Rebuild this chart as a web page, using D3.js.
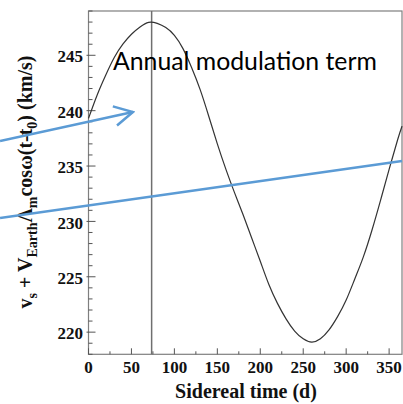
<!DOCTYPE html>
<html>
<head>
<meta charset="utf-8">
<script src="https://cdn.jsdelivr.net/npm/d3@7"></script>
<style>
  html, body { margin: 0; padding: 0; background: #fff; }
  svg { display: block; }
</style>
</head>
<body>
<svg id="chart" width="403" height="404"></svg>
<script>
// ---- data ----
const days   = [0, 10, 20, 30, 40, 50, 60, 70, 80, 90, 100, 110, 120, 130, 140, 150, 160, 170, 180, 190,
                200, 210, 220, 230, 240, 250, 260, 270, 280, 290, 300, 310, 320, 330, 340, 350, 360, 365];
const speeds = [239.3, 241.4, 243.2, 244.8, 246.0, 246.9, 247.55, 247.97, 247.88, 247.5, 246.8, 245.6, 243.9, 241.9, 239.5, 237.0, 234.7, 232.6, 230.6, 228.5,
                226.4, 224.3, 222.6, 221.2, 220.1, 219.4, 219.1, 219.4, 220.2, 221.4, 222.9, 224.8, 226.8, 229.2, 231.9, 234.7, 237.4, 238.6];
const xTickValues = [0, 50, 100, 150, 200, 250, 300, 350];
const yTickValues = [220, 225, 230, 235, 240, 245];
const peakDay = 73.5;
// annotation overlays (data coordinates)
const arrowDays   = [-103, 51.7];
const arrowValues = [237.26, 239.88];
const trendDays   = [-103, 365];
const trendValues = [230.3, 235.45];
const annotationText = "Annual modulation term";
const xLabel = "Sidereal time (d)";

// ---- layout ----
const svg = d3.select("#chart");
const mLeft = 88.5, mRight = 402, mTop = 11, mBottom = 354.3;
const x = d3.scaleLinear().domain([0, 365]).range([mLeft, mRight]);
const y = d3.scaleLinear().domain([218, 249]).range([mBottom, mTop]);

const frameColor = "#7f7f7f";
const serif = "'Liberation Serif', 'Times New Roman', serif";

// frame
svg.append("rect")
  .attr("x", mLeft).attr("y", mTop)
  .attr("width", mRight - mLeft).attr("height", mBottom - mTop)
  .attr("fill", "none").attr("stroke", frameColor).attr("stroke-width", 1.2);

// minor ticks
const xMinor = d3.range(0, 366, 25).filter(v => v % 50 !== 0);
const yMinor = d3.range(218, 250, 1).filter(v => v % 5 !== 0);

const tickG = svg.append("g").attr("stroke", "#555").attr("stroke-width", 1);
tickG.selectAll(".xmaj").data(xTickValues).join("line")
  .attr("x1", d => x(d)).attr("x2", d => x(d))
  .attr("y1", mBottom).attr("y2", mBottom - 6);
tickG.selectAll(".xmin").data(xMinor).join("line")
  .attr("x1", d => x(d)).attr("x2", d => x(d))
  .attr("y1", mBottom).attr("y2", mBottom - 3);
tickG.selectAll(".ymaj").data(yTickValues).join("line")
  .attr("x1", mLeft - 2).attr("x2", mLeft + 7)
  .attr("y1", d => y(d)).attr("y2", d => y(d));
tickG.selectAll(".ymin").data(yMinor).join("line")
  .attr("x1", mLeft).attr("x2", mLeft + 4)
  .attr("y1", d => y(d)).attr("y2", d => y(d));

// tick labels
svg.append("g").selectAll("text").data(xTickValues).join("text")
  .attr("x", d => x(d)).attr("y", mBottom + 19)
  .attr("text-anchor", "middle")
  .attr("font-family", serif).attr("font-weight", "bold").attr("font-size", 17)
  .attr("fill", "#111")
  .text(d => d);
svg.append("g").selectAll("text").data(yTickValues).join("text")
  .attr("x", mLeft - 5.5).attr("y", d => y(d)).attr("dy", "0.42em")
  .attr("text-anchor", "end")
  .attr("font-family", serif).attr("font-weight", "bold").attr("font-size", 17)
  .attr("fill", "#111")
  .text(d => d);

// axis titles
svg.append("text")
  .attr("x", 246).attr("y", 398)
  .attr("text-anchor", "middle")
  .attr("font-family", serif).attr("font-weight", "bold").attr("font-size", 20)
  .attr("fill", "#111")
  .text(xLabel);

const yl = svg.append("text")
  .attr("transform", "translate(32,182) rotate(-90)")
  .attr("text-anchor", "middle")
  .attr("font-family", serif).attr("font-weight", "bold").attr("font-size", 20)
  .attr("fill", "#111");
const parts = [
  ["v", false], ["s", true], [" + V", false], ["Earth", true],
  ["\u039B", false], ["m", true], ["cos\u03C9(t-t", false], ["0", true], [") (km/s)", false]
];
let shifted = false;
parts.forEach(([t, sub]) => {
  const ts = yl.append("tspan").text(t);
  if (sub) {
    ts.attr("font-size", 14).attr("dy", shifted ? 0 : 5);
    shifted = true;
  } else {
    ts.attr("dy", shifted ? -5 : 0);
    shifted = false;
  }
});

// vertical peak line
svg.append("line")
  .attr("x1", x(peakDay)).attr("x2", x(peakDay))
  .attr("y1", mTop).attr("y2", mBottom)
  .attr("stroke", "#6f6f6f").attr("stroke-width", 1.5);

// curve
const line = d3.line().x((d, i) => x(days[i])).y(d => y(d)).curve(d3.curveNatural);
svg.append("path")
  .attr("d", line(speeds))
  .attr("fill", "none").attr("stroke", "#333").attr("stroke-width", 1.2);

// annotation text
svg.append("text")
  .attr("x", 113).attr("y", 70)
  .attr("font-family", "Lato, 'Open Sans', sans-serif").attr("font-size", 24.8)
  .attr("fill", "#000")
  .text(annotationText);

// blue overlays
const blue = "#5b9bd5";
const defs = svg.append("defs");
defs.append("marker")
  .attr("id", "chev").attr("markerUnits", "userSpaceOnUse")
  .attr("viewBox", "-22 -12 24 24").attr("refX", 0).attr("refY", 0)
  .attr("markerWidth", 24).attr("markerHeight", 24).attr("orient", "auto")
  .append("path")
  .attr("d", "M-18.4,-9.8 L0,0 L-18.4,9.8")
  .attr("fill", "none").attr("stroke", blue).attr("stroke-width", 2.5)
  .attr("stroke-linejoin", "miter");

const straight = d3.line().x(d => x(d[0])).y(d => y(d[1]));
svg.append("path")
  .attr("d", straight(arrowDays.map((d, i) => [d, arrowValues[i]])))
  .attr("fill", "none").attr("stroke", blue).attr("stroke-width", 2.5)
  .attr("marker-end", "url(#chev)");
svg.append("path")
  .attr("d", straight(trendDays.map((d, i) => [d, trendValues[i]])))
  .attr("fill", "none").attr("stroke", blue).attr("stroke-width", 2.5);
</script>
</body>
</html>
